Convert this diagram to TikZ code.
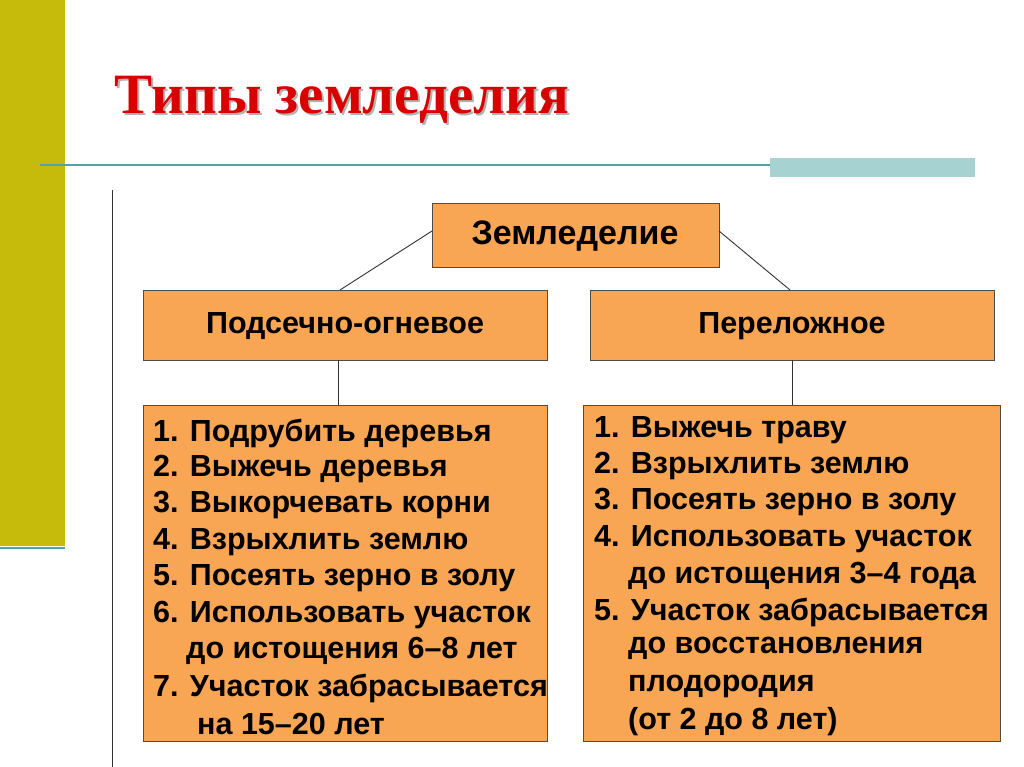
\documentclass[tikz,border=0pt]{standalone}
\usepackage{fontspec}
\setmainfont{Liberation Sans}
\newfontfamily\titlefont{Liberation Serif}
\begin{document}
\begin{tikzpicture}[x=1pt,y=-1pt,
  item/.style={anchor=west,font=\fontsize{30.5}{30}\selectfont\bfseries,inner sep=0pt},
  head/.style={font=\fontsize{30.5}{30}\selectfont\bfseries,inner sep=0pt}]
\useasboundingbox (0,0) rectangle (1024,767);
\fill[white] (0,0) rectangle (1024,767);
\definecolor{olv}{RGB}{198,186,10}
\fill[olv] (0,0) rectangle (65,546);
\draw[teal!70,line width=1.5pt] (0,548) -- (65,548);
\draw[teal!70,line width=1.2pt] (40,165) -- (975,165);
\fill[teal!35] (770,158) rectangle (975,177);
\draw[black!80,line width=0.8pt] (112,190) -- (112,767);
\node[text=black!30,font=\titlefont\fontsize{57}{57}\selectfont\bfseries] at (344,102) {Типы земледелия};
\node[text=red!85!black,font=\titlefont\fontsize{57}{57}\selectfont\bfseries] (t) at (342,100) {Типы земледелия};
\definecolor{org}{RGB}{249,166,84}
\tikzset{box/.style={draw=black!70,line width=0.8pt,fill=org}}
\draw[box] (432,203) rectangle (719,267); \node[head,font=\fontsize{34}{34}\selectfont\bfseries] (z) at (575,236) {Земледелие};
\draw[box] (143,290) rectangle (547,360); \node[head] (a) at (345,326) {Подсечно-огневое};
\draw[box] (590,290) rectangle (994,360); \node[head] (b) at (792,326) {Переложное};
\draw[box] (143,405) rectangle (547,741);
\draw[box] (583,405) rectangle (1000,741);
\coordinate (zl) at (432,231); \coordinate (zr) at (719,231);
\coordinate (at) at (340,290); \coordinate (bt) at (790,290);
\draw[black!80,line width=0.9pt] (zl) -- (at); \draw[black!80,line width=0.9pt] (zr) -- (bt);
\coordinate (ab) at (338,360); \coordinate (la) at (338,405);
\coordinate (bb) at (792,360); \coordinate (lb) at (792,405);
\draw[black!80,line width=0.9pt] (ab) -- (la); \draw[black!80,line width=0.9pt] (bb) -- (lb);
\node[item] (l1) at (153,433) {1. Подрубить деревья};
\node[item] (l2) at (153,469) {2. Выжечь деревья};
\node[item] (l3) at (153,505) {3. Выкорчевать корни};
\node[item] (l4) at (153,542) {4. Взрыхлить землю};
\node[item] (l5) at (153,578) {5. Посеять зерно в золу};
\node[item] (l6) at (153,615) {6. Использовать участок};
\node[item] (l7) at (186,651) {до истощения 6–8 лет};
\node[item] (l8) at (153,688) {7. Участок забрасывается};
\node[item] (l9) at (197,724) {на 15–20 лет};
\node[item] (r1) at (594,430) {1. Выжечь траву};
\node[item] (r2) at (594,466) {2. Взрыхлить землю};
\node[item] (r3) at (594,502) {3. Посеять зерно в золу};
\node[item] (r4) at (594,539) {4. Использовать участок};
\node[item] (r5) at (628,576) {до истощения 3–4 года};
\node[item] (r6) at (594,612) {5. Участок забрасывается};
\node[item] (r7) at (628,648) {до восстановления};
\node[item] (r8) at (628,686) {плодородия};
\node[item] (r9) at (628,722) {(от 2 до 8 лет)};
\end{tikzpicture}
\end{document}
